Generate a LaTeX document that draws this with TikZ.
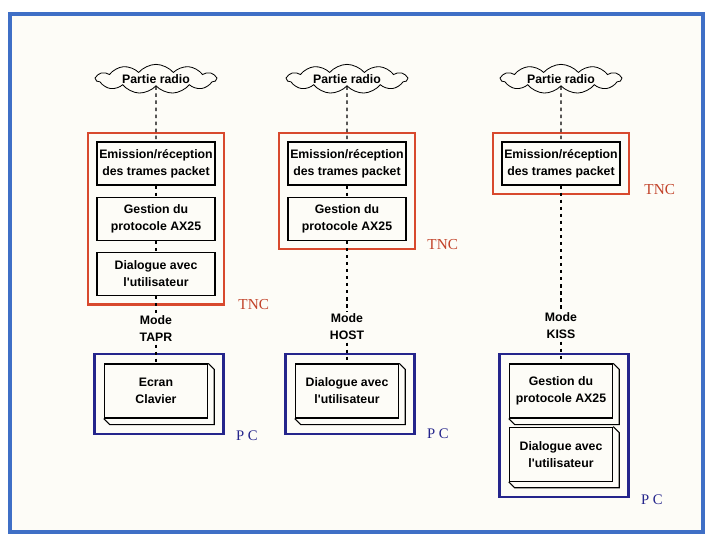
\documentclass[tikz,border=0pt]{standalone}
\usepackage{fontspec}
\setmainfont{Liberation Serif}
\newfontfamily\boxfont{Liberation Sans}
\usetikzlibrary{positioning, fit, shapes.symbols}
\definecolor{framebleu}{HTML}{3F6FC6}
\definecolor{tncrouge}{HTML}{D8492E}
\definecolor{pcbleu}{HTML}{25258C}
\definecolor{fond}{HTML}{FDFCF7}

\newcommand{\blocdepth}[1]{%
  \draw[line width=0.9pt] (#1.north east) -- ++(6,6) |- ([shift={(6,6)}]#1.south west) -- (#1.south west);}

\begin{document}
\begin{tikzpicture}[
  x=0.03cm, y=-0.03cm,
  node distance=0.33cm,
  stage/.style={rectangle, draw=black, line width=1pt, fill=fond,
                minimum width=3.54cm, minimum height=1.29cm, inner sep=1pt,
                font=\boxfont\bfseries\fontsize{10.5}{14.5}\selectfont, align=center},
  pcblock/.style={stage, minimum width=3.1cm, minimum height=1.62cm},
  cloudtag/.style={cloud, draw, line width=0.7pt, cloud puffs=11, cloud puff arc=100,
                   aspect=5.5, minimum width=3.6cm, minimum height=0.62cm, inner sep=0pt,
                   font=\boxfont\bfseries\fontsize{10.5}{12}\selectfont},
  modetag/.style={inner sep=2pt, align=center,
                  font=\boxfont\bfseries\fontsize{10.5}{14.5}\selectfont},
  tncframe/.style={draw=tncrouge, line width=2.2pt, inner sep=0.25cm},
  pcframe/.style={draw=pcbleu, line width=2.2pt, inner sep=0.28cm},
  tnclabel/.style={anchor=west, text=tncrouge!90!black, inner sep=0pt,
                   font=\fontsize{13}{13}\selectfont},
  pclabel/.style={anchor=west, text=pcbleu, inner sep=0pt,
                  font=\fontsize{12.5}{12.5}\selectfont},
  link/.style={dash pattern=on 3pt off 3pt, line width=0.9pt},
]
  \useasboundingbox (0,0) rectangle (711,537);
  \fill[white] (0,0) rectangle (711,537);
  \draw[framebleu, line width=3pt, fill=fond] (10,14) rectangle (703,532);

  % mode TAPR
  \node[cloudtag] (r1) at (156,79) {Partie radio};
  \node[stage] (a1) at (156,163.5) {Emission/réception\\des trames packet};
  \node[stage, below=of a1] (a2) {Gestion du\\protocole AX25};
  \node[stage, below=of a2] (a3) {Dialogue avec\\l'utilisateur};
  \node[tncframe, fit=(a1)(a3)] (tnc1) {};
  \node[tnclabel] (t1) at ([shift={(13,-1)}]tnc1.south east) {TNC};
  \node[modetag] (m1) at (156,329) {Mode\\TAPR};
  \node[pcblock] (p1) at (156,391) {Ecran\\Clavier};
  \blocdepth{p1}
  \coordinate (p1d) at ([shift={(6,6)}]p1.south east);
  \node[pcframe, fit=(p1)(p1d)] (pc1) {};
  \node[pclabel] (l1) at ([shift={(11,1)}]pc1.south east) {P C};
  \draw[link] (r1)--(a1);
  \draw[link] (a1)--(a2);
  \draw[link] (a2)--(a3);
  \draw[link] (a3)--(m1);
  \draw[link] (m1)--(p1);

  % mode HOST
  \node[cloudtag] (r2) at (347,79) {Partie radio};
  \node[stage] (b1) at (347,163.5) {Emission/réception\\des trames packet};
  \node[stage, below=of b1] (b2) {Gestion du\\protocole AX25};
  \node[tncframe, fit=(b1)(b2)] (tnc2) {};
  \node[tnclabel] (t2) at ([shift={(11,-6)}]tnc2.south east) {TNC};
  \node[modetag] (m2) at (347,327) {Mode\\HOST};
  \node[pcblock] (q1) at (347,391) {Dialogue avec\\l'utilisateur};
  \blocdepth{q1}
  \coordinate (q1d) at ([shift={(6,6)}]q1.south east);
  \node[pcframe, fit=(q1)(q1d)] (pc2) {};
  \node[pclabel] (l2) at ([shift={(11,-1)}]pc2.south east) {P C};
  \draw[link] (r2)--(b1);
  \draw[link] (b1)--(b2);
  \draw[link] (b2)--(m2);
  \draw[link] (m2)--(q1);

  % mode KISS
  \node[cloudtag] (r3) at (561,79) {Partie radio};
  \node[stage] (c1) at (561,163.5) {Emission/réception\\des trames packet};
  \node[tncframe, fit=(c1)] (tnc3) {};
  \node[tnclabel] (t3) at ([shift={(14,-6)}]tnc3.south east) {TNC};
  \node[modetag] (m3) at (561,326) {Mode\\KISS};
  \node[pcblock] (s1) at (561,391) {Gestion du\\protocole AX25};
  \node[pcblock, below=0.24cm of s1] (s2) {Dialogue avec\\l'utilisateur};
  \blocdepth{s1}
  \blocdepth{s2}
  \coordinate (s2d) at ([shift={(6,6)}]s2.south east);
  \node[pcframe, fit=(s1)(s2d)] (pc3) {};
  \node[pclabel] (l3) at ([shift={(11,1)}]pc3.south east) {P C};
  \draw[link] (r3)--(c1);
  \draw[link] (c1)--(m3);
  \draw[link] (m3)--(s1);
\end{tikzpicture}
\end{document}
